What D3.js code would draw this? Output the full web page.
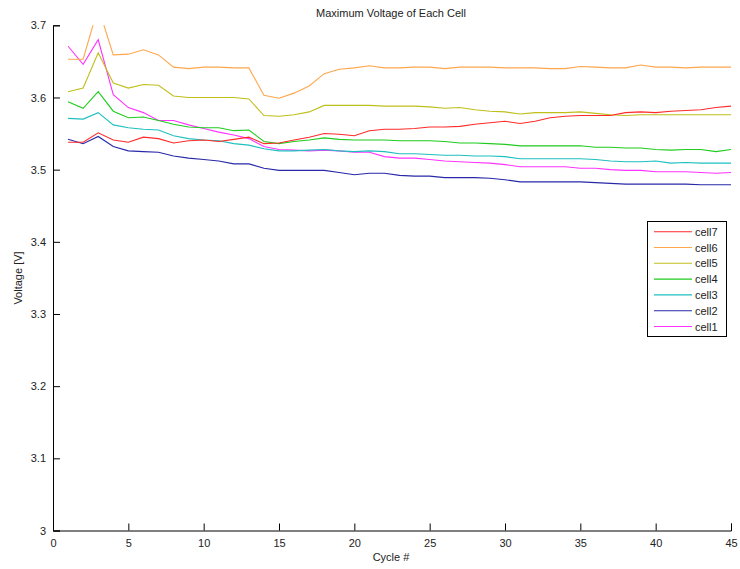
<!DOCTYPE html>
<html>
<head>
<meta charset="utf-8">
<script src="https://cdn.jsdelivr.net/npm/d3@7"></script>
<style>
  html, body { margin: 0; padding: 0; background: #fff; }
  svg { display: block; }
  text { font-family: "Liberation Sans Narrow", "Liberation Sans", Arial, sans-serif; fill: #222; }
</style>
</head>
<body>
<svg id="chart" width="740" height="569"></svg>
<script>
const cycles = d3.range(1, 46);
const xTicks = [0, 5, 10, 15, 20, 25, 30, 35, 40, 45];
const yTicks = [3, 3.1, 3.2, 3.3, 3.4, 3.5, 3.6, 3.7];

const cell7 = [3.538,3.538,3.551,3.541,3.538,3.545,3.543,3.537,3.540,3.541,3.539,3.542,3.545,3.536,3.537,3.541,3.545,3.550,3.549,3.547,3.554,3.556,3.556,3.557,3.559,3.559,3.560,3.563,3.565,3.567,3.564,3.567,3.572,3.574,3.575,3.575,3.575,3.579,3.580,3.579,3.581,3.582,3.583,3.586,3.588];
const cell6 = [3.653,3.653,3.725,3.659,3.660,3.666,3.659,3.642,3.640,3.642,3.642,3.641,3.641,3.603,3.599,3.606,3.616,3.633,3.639,3.641,3.644,3.641,3.641,3.642,3.642,3.640,3.642,3.642,3.642,3.641,3.641,3.641,3.640,3.640,3.643,3.642,3.641,3.641,3.645,3.642,3.642,3.641,3.642,3.642,3.642];
const cell5 = [3.608,3.613,3.662,3.620,3.613,3.618,3.617,3.602,3.600,3.600,3.600,3.600,3.598,3.575,3.574,3.576,3.580,3.589,3.589,3.589,3.589,3.588,3.588,3.588,3.587,3.585,3.586,3.583,3.581,3.580,3.577,3.579,3.579,3.579,3.580,3.578,3.576,3.575,3.576,3.576,3.576,3.576,3.576,3.576,3.576];
const cell4 = [3.594,3.585,3.608,3.581,3.572,3.573,3.568,3.563,3.559,3.558,3.558,3.554,3.555,3.539,3.536,3.539,3.541,3.544,3.542,3.541,3.541,3.541,3.540,3.540,3.540,3.539,3.537,3.537,3.536,3.535,3.533,3.533,3.533,3.533,3.533,3.531,3.531,3.530,3.530,3.528,3.527,3.528,3.528,3.525,3.528];
const cell3 = [3.571,3.570,3.579,3.562,3.558,3.556,3.555,3.547,3.543,3.541,3.540,3.536,3.534,3.529,3.526,3.526,3.527,3.528,3.526,3.525,3.526,3.525,3.522,3.522,3.521,3.520,3.520,3.519,3.519,3.518,3.515,3.515,3.515,3.515,3.515,3.514,3.512,3.511,3.511,3.512,3.509,3.510,3.509,3.509,3.509];
const cell2 = [3.542,3.536,3.546,3.532,3.526,3.525,3.524,3.519,3.516,3.514,3.512,3.508,3.508,3.502,3.499,3.499,3.499,3.499,3.496,3.493,3.495,3.495,3.492,3.491,3.491,3.489,3.489,3.489,3.488,3.486,3.483,3.483,3.483,3.483,3.483,3.482,3.481,3.480,3.480,3.480,3.480,3.480,3.479,3.479,3.479];
const cell1 = [3.671,3.646,3.680,3.604,3.586,3.579,3.568,3.568,3.562,3.557,3.552,3.548,3.543,3.532,3.528,3.527,3.526,3.527,3.526,3.524,3.524,3.518,3.516,3.516,3.514,3.512,3.511,3.510,3.509,3.507,3.504,3.504,3.504,3.504,3.502,3.502,3.500,3.499,3.499,3.497,3.497,3.497,3.496,3.495,3.496];

const seriesNames = ["cell7", "cell6", "cell5", "cell4", "cell3", "cell2", "cell1"];
const seriesValues = [cell7, cell6, cell5, cell4, cell3, cell2, cell1];
const seriesColors = ["#ff2a2a", "#ffa64d", "#bfbf1a", "#1fcc1f", "#1fbfbf", "#2828a8", "#ff33ff"];

const svg = d3.select("#chart");
const mLeft = 53, mRight = 731, mTop = 25.3, mBottom = 530.5;

const x = d3.scaleLinear().domain([0, 45]).range([mLeft, mRight]);
const y = d3.scaleLinear().domain([3, 3.7]).range([mBottom, mTop]);

svg.append("defs").append("clipPath").attr("id", "clip")
  .append("rect").attr("x", mLeft).attr("y", mTop).attr("width", mRight - mLeft).attr("height", mBottom - mTop);

const xAxis = d3.axisBottom(x).tickValues(xTicks).tickSize(-7).tickPadding(10).tickFormat(d3.format("d"));
const yAxis = d3.axisLeft(y).tickValues(yTicks).tickSize(-7).tickPadding(7).tickFormat(d => d === 3 ? "3" : d3.format(".1f")(d));

const gx = svg.append("g").attr("transform", `translate(0,${mBottom})`).call(xAxis);
const gy = svg.append("g").attr("transform", `translate(${mLeft},0)`).call(yAxis);
[gx, gy].forEach(g => {
  g.select(".domain").attr("stroke", "#000").attr("stroke-width", 1);
  g.selectAll(".tick line").attr("stroke", "#000");
  g.selectAll(".tick text").attr("font-size", 11).attr("fill", "#222")
    .attr("font-family", '"Liberation Sans Narrow", "Liberation Sans", Arial, sans-serif');
});
gx.selectAll(".tick text").attr("dy", "0.55em");

const line = d3.line().x((d, i) => x(cycles[i])).y(d => y(d));
const plot = svg.append("g").attr("clip-path", "url(#clip)");
seriesValues.slice().reverse().forEach((vals, j) => {
  const i = seriesValues.length - 1 - j;
  plot.append("path")
    .datum(vals)
    .attr("fill", "none")
    .attr("stroke", seriesColors[i])
    .attr("stroke-width", 1.1)
    .attr("d", line);
});

svg.append("text").attr("x", 391).attr("y", 17).attr("text-anchor", "middle")
  .attr("font-size", 11).text("Maximum Voltage of Each Cell");
svg.append("text").attr("x", 391).attr("y", 561).attr("text-anchor", "middle")
  .attr("font-size", 11).text("Cycle #");
svg.append("text").attr("transform", "translate(22,278) rotate(-90)").attr("text-anchor", "middle")
  .attr("font-size", 11).text("Voltage [V]");

const lg = svg.append("g");
lg.append("rect").attr("x", 647.5).attr("y", 221.5).attr("width", 79).attr("height", 115)
  .attr("fill", "#fff").attr("stroke", "#000").attr("stroke-width", 1);
seriesNames.forEach((name, i) => {
  const yy = 231.7 + i * 15.8;
  lg.append("line").attr("x1", 654).attr("x2", 692).attr("y1", yy).attr("y2", yy)
    .attr("stroke", seriesColors[i]).attr("stroke-width", 1.1);
  lg.append("text").attr("x", 695).attr("y", yy + 4).attr("font-size", 11).text(name);
});
</script>
</body>
</html>
